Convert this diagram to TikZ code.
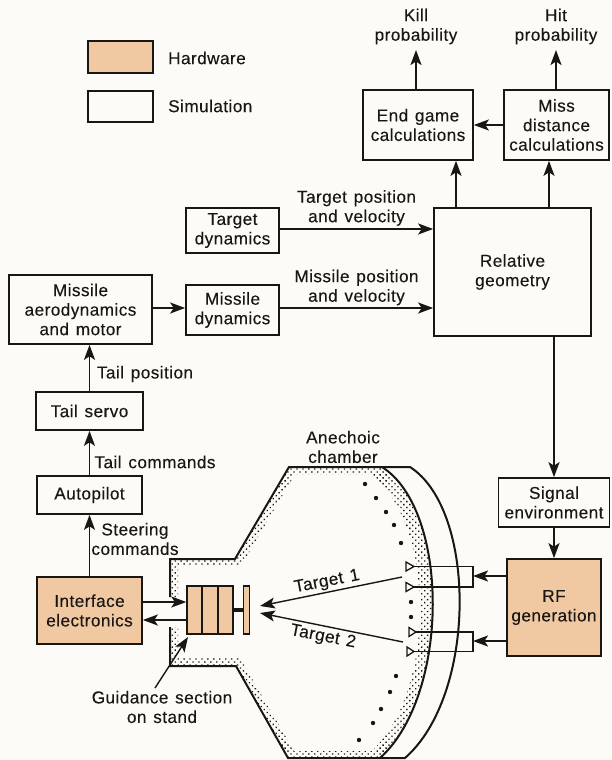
\documentclass[tikz,border=0pt]{standalone}
\usepackage{fontspec}
\setmainfont[LetterSpace=2.5,WordSpace=1.3,FakeBold=0.2]{Liberation Sans}
\usetikzlibrary{arrows.meta,patterns.meta}
\definecolor{paper}{HTML}{FDFBF8}
\definecolor{tan}{HTML}{F0C9A2}
\definecolor{ink}{HTML}{1A1614}
\tikzset{
  base/.style={font=\fontsize{17.2}{19.5}\selectfont,text=ink,align=center,inner sep=0pt},
  simbox/.style={base,draw=ink,line width=1.7pt,fill=paper},
  hwbox/.style={base,draw=ink,line width=1.7pt,fill=tan},
  lbl/.style={base},
  link/.style={draw=ink,line width=1.7pt,-{Stealth[length=15pt,width=11pt,inset=3.5pt]}},
  thin link/.style={link,line width=1.4pt},
  wall/.style={draw=ink,line width=2pt},
  horn/.style={draw=ink,line width=1.3pt,fill=paper},
  feed/.style={draw=ink,line width=1.8pt},
  spot/.style={fill=ink,circle,inner sep=0pt,minimum size=4.4pt},
  dims/.style 2 args={minimum width=#1pt,minimum height=#2pt}
}
\begin{document}
\begin{tikzpicture}[x=1pt,y=-1pt]
\useasboundingbox (0,0) rectangle (611,760);
\fill[paper] (0,0) rectangle (611,760);

% stippled lining of the chamber
\fill[pattern={Dots[distance=4.2pt,radius=0.95pt,angle=45]},pattern color=ink]
  (170,597) -- (170,559) -- (235,559) -- (289,467) -- (382,467)
  .. controls (450,510) and (450,695) .. (380,758)
  -- (288,758) -- (236,666) -- (170,666) -- (170,627) -- (178,627)
  -- (178,658) -- (240,658) -- (294,751) -- (372,751)
  .. controls (436,690) and (436,525) .. (371,474)
  -- (295,474) -- (241,566) -- (178,566) -- (178,597) -- cycle;

% chamber walls
\draw[wall] (170,597) -- (170,559) -- (235,559) -- (289,467) -- (410,467)
  .. controls (477,510) and (477,695) .. (405,758)
  -- (288,758) -- (236,666) -- (170,666) -- (170,627);
\draw[wall] (382,467) .. controls (450,510) and (450,695) .. (380,758);

% legend
\node[hwbox,dims={65}{32}] (leghw) at (120.5,57) {};
\node[simbox,dims={65}{31}] (legsim) at (120.5,106.5) {};
\node[lbl,anchor=west] (leghwt) at (168,58) {Hardware};
\node[lbl,anchor=west] (legsimt) at (168,106) {Simulation};

% boxes
\node[simbox,dims={110}{70}] (endg) at (418,125) {End game\\calculations};
\node[simbox,dims={105}{70}] (miss) at (556.5,125) {Miss\\distance\\calculations};
\node[simbox,dims={157}{128}] (rel) at (512.5,272) {Relative\\geometry};
\node[simbox,dims={93}{45}] (tdyn) at (232.5,230.5) {Target\\dynamics};
\node[simbox,dims={93}{50}] (mdyn) at (232.5,310) {Missile\\dynamics};
\node[simbox,dims={143}{69}] (aero) at (80.5,309.5) {Missile\\aerodynamics\\and motor};
\node[simbox,dims={107}{38}] (servo) at (89.5,411) {Tail servo};
\node[simbox,dims={105}{38}] (auto) at (89.5,495) {Autopilot};
\node[hwbox,dims={105}{67}] (iface) at (89.5,610.5) {Interface\\electronics};
\node[simbox,dims={111}{49}] (signal) at (554,502.5) {Signal\\environment};
\node[hwbox,dims={94}{97}] (rf) at (554,607.5) {RF\\generation};

% guidance section
\node[hwbox,line width=1.4pt,dims={46}{48}] (guid) at (210,610) {};
\draw[ink,line width=1.4pt] (202,586) -- (202,634) (218,586) -- (218,634);
\node[hwbox,line width=1.2pt,dims={5.5}{48}] (plate) at (246.5,610) {};
\draw[ink,line width=3.4pt] (guid.east) -- (plate.west);

% text labels
\node[lbl] (kill) at (416,26.5) {Kill\\probability};
\node[lbl] (hit) at (556,26.5) {Hit\\probability};
\node[lbl] (tpos) at (356.5,208) {Target position\\and velocity};
\node[lbl] (mpos) at (356.5,287.5) {Missile position\\and velocity};
\node[lbl] (tailp) at (145,374) {Tail position};
\node[lbl] (tailc) at (155,462) {Tail commands};
\node[lbl] (steer) at (135,539) {Steering\\commands};
\node[lbl] (anech) at (343,447) {Anechoic\\chamber};
\node[lbl] (gtext) at (162,707) {Guidance section\\on stand};
\node[lbl,rotate=11] (t1) at (327,582) {Target 1};
\node[lbl,rotate=-11] (t2) at (323,637) {Target 2};

% connectors
\draw[link] (endg.north -| kill.south) -- (kill.south |- 0,50);
\draw[link] (miss.north -| hit.south) -- (hit.south |- 0,50);
\draw[link] (miss.west) -- (endg.east);
\draw[link] (rel.north -| 456,0) -- (endg.south -| 456,0);
\draw[link] (rel.north -| 549,0) -- (miss.south -| 549,0);
\draw[link] (tdyn.east |- 0,229) -- (rel.west |- 0,229);
\draw[link] (mdyn.east |- 0,308) -- (rel.west |- 0,308);
\draw[link] (aero.east |- 0,308) -- (mdyn.west |- 0,308);
\draw[link] (servo.north) -- (servo.north |- aero.south);
\draw[link] (auto.north) -- (servo.south);
\draw[link] (iface.north) -- (auto.south);
\draw[link] (iface.east |- 0,602) -- (guid.west |- 0,602);
\draw[link] (guid.west |- 0,620) -- (iface.east |- 0,620);
\draw[link] (rel.south -| signal.north) -- (signal.north);
\draw[link] (signal.south) -- (rf.north);

\coordinate (stand) at (155,688);
\coordinate (guidcorner) at (188,637);
\draw[thin link] (stand) -- (guidcorner);

% target rays
\coordinate (ray1) at (402,577);
\coordinate (ray2) at (403,642);
\coordinate (seeker1) at (260,606);
\coordinate (seeker2) at (260,613);
\draw[thin link] (ray1) -- (seeker1);
\draw[thin link] (ray2) -- (seeker2);

% horns and feeds
\coordinate (h1) at (414,566.5);
\coordinate (h2) at (414,587);
\coordinate (h3) at (416,632);
\coordinate (h4) at (414,651.5);
\coordinate (j1) at (473,576);
\coordinate (j2) at (473,641);
\draw[feed] (h1) -- (j1 |- h1) -- (j1 |- h2) -- (h2);
\draw[feed] (h3) -- (j2 |- h3) -- (j2 |- h4) -- (h4);
\draw[horn] (h1) -- ++(-8,-4.5) -- ++(0,9) -- cycle;
\draw[horn] (h2) -- ++(-8,-4.5) -- ++(0,9) -- cycle;
\draw[horn] (h3) -- ++(-7,-4.5) -- ++(0,9) -- cycle;
\draw[horn] (h4) -- ++(-7,-4.5) -- ++(0,9) -- cycle;
\draw[link] (rf.west |- j1) -- (j1);
\draw[link] (rf.west |- j2) -- (j2);

% dots of the target array
\foreach \px/\py in {365/484,376/498,386/512,394/525,401/543,411/602,411/617,396/676,390/692,381/709,373/723,359/740}
  \node[spot] at (\px,\py) {};
\end{tikzpicture}
\end{document}
